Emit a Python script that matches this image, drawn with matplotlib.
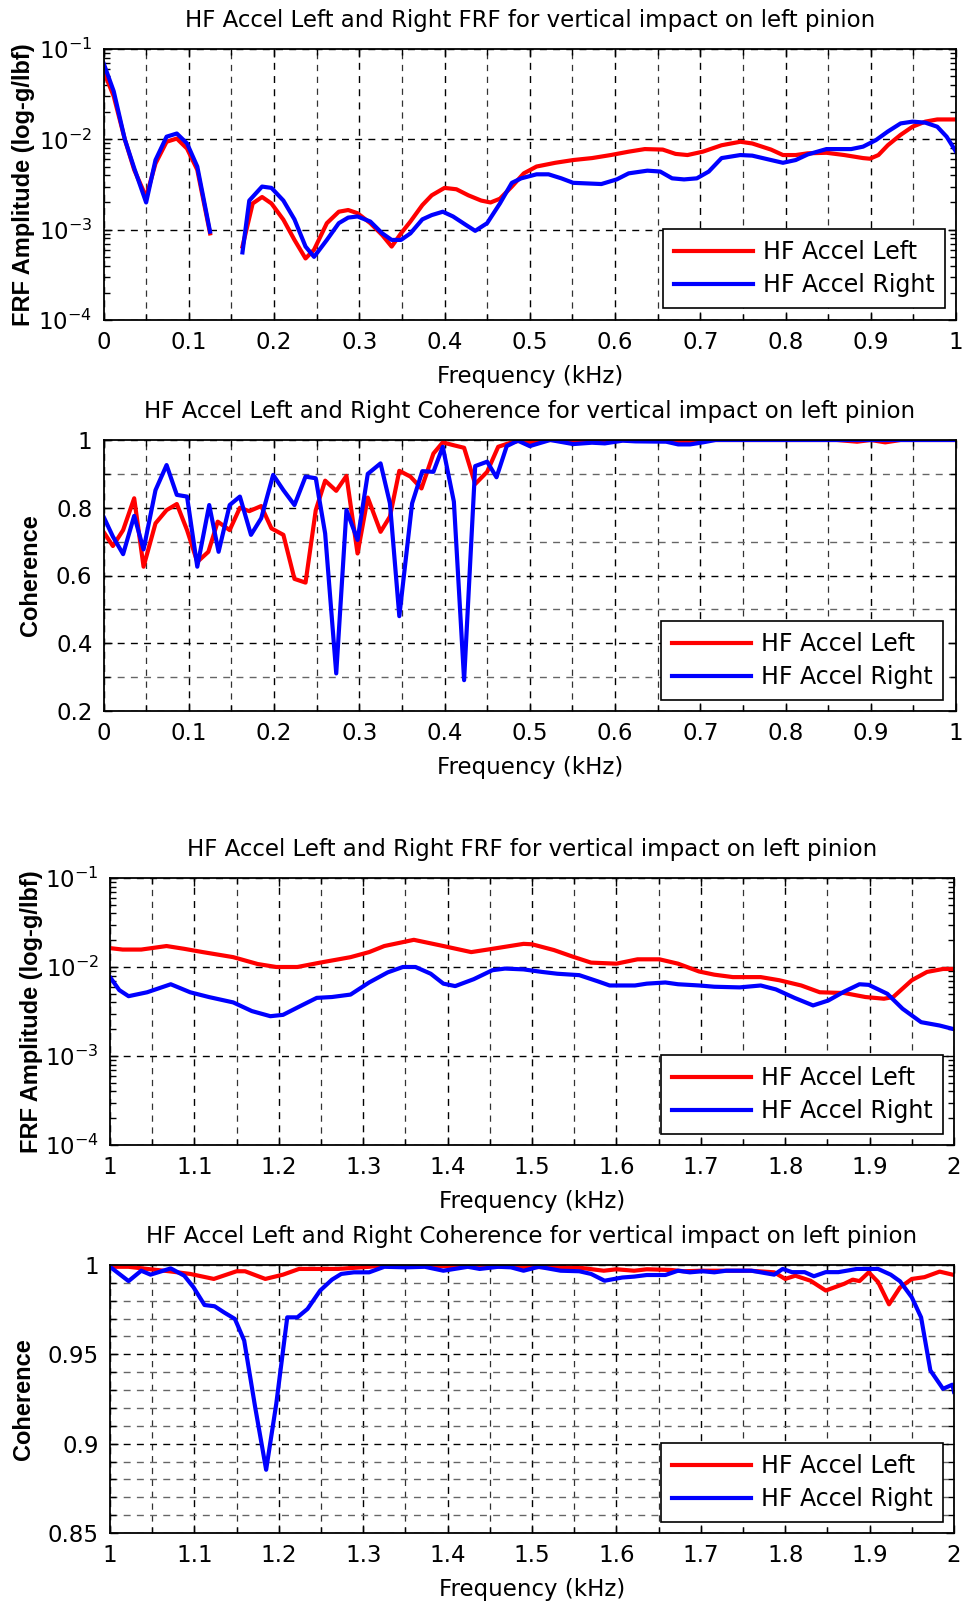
import numpy as np
import matplotlib
matplotlib.use("Agg")
import matplotlib.pyplot as plt
from matplotlib.ticker import MultipleLocator, FormatStrFormatter, LogLocator, NullFormatter

plt.rcParams['font.family'] = ['DejaVu Sans']
plt.rcParams['mathtext.default'] = 'regular'

# ---------------- data ----------------
title_frf = "HF Accel Left and Right FRF for vertical impact on left pinion"
title_coh = "HF Accel Left and Right Coherence for vertical impact on left pinion"
xlabel = "Frequency (kHz)"
ylabel_frf = "FRF Amplitude (log-g/lbf)"
ylabel_coh = "Coherence"
labels = ["HF Accel Left", "HF Accel Right"]

# Panel 1: FRF 0-1 kHz (NaN = gap)
f1_left_x = [0, 0.012, 0.025, 0.036, 0.05, 0.061, 0.074, 0.086, 0.098, 0.11, 0.125, 0.14,
             0.163, 0.175, 0.186, 0.197, 0.211, 0.224, 0.237, 0.247, 0.262, 0.276, 0.287, 0.298,
             0.313, 0.327, 0.338, 0.349, 0.36, 0.374, 0.385, 0.4, 0.414, 0.428, 0.443, 0.454,
             0.465, 0.479, 0.493, 0.508, 0.53, 0.551, 0.573, 0.595, 0.616, 0.635, 0.656, 0.671,
             0.685, 0.703, 0.725, 0.747, 0.761, 0.783, 0.797, 0.812, 0.826, 0.848, 0.869, 0.891,
             0.899, 0.909, 0.92, 0.935, 0.949, 0.964, 0.978, 1.0]
f1_left_y = [0.057, 0.030, 0.010, 0.0046, 0.0023, 0.0054, 0.0094, 0.0102, 0.0079, 0.0046, 0.00091, np.nan,
             0.00065, 0.00195, 0.0023, 0.00195, 0.00129, 0.00077, 0.00048, 0.0006, 0.00118, 0.00158, 0.00165, 0.00152,
             0.00118, 0.00087, 0.00065, 0.00091, 0.00123, 0.00187, 0.0024, 0.0029, 0.0028, 0.0024, 0.0021, 0.0020,
             0.0022, 0.0030, 0.0042, 0.0050, 0.0055, 0.0059, 0.0062, 0.0067, 0.0073, 0.0078, 0.0077, 0.0069,
             0.0067, 0.0073, 0.0086, 0.0094, 0.0090, 0.0077, 0.0067, 0.0067, 0.0070, 0.0071, 0.0067, 0.0062,
             0.0061, 0.0067, 0.0086, 0.0112, 0.0138, 0.0157, 0.0166, 0.0166]
f1_right_x = [0, 0.012, 0.025, 0.036, 0.05, 0.061, 0.074, 0.086, 0.098, 0.11, 0.125, 0.14,
              0.163, 0.171, 0.186, 0.197, 0.211, 0.224, 0.237, 0.247, 0.262, 0.276, 0.287, 0.298,
              0.313, 0.327, 0.338, 0.349, 0.36, 0.374, 0.385, 0.398, 0.41, 0.425, 0.436, 0.45,
              0.465, 0.479, 0.49, 0.508, 0.522, 0.537, 0.551, 0.584, 0.602, 0.616, 0.638, 0.653,
              0.667, 0.681, 0.696, 0.71, 0.725, 0.747, 0.761, 0.783, 0.797, 0.812, 0.826, 0.848,
              0.877, 0.891, 0.906, 0.92, 0.935, 0.949, 0.964, 0.978, 0.989, 1.0]
f1_right_y = [0.070, 0.034, 0.010, 0.0048, 0.0020, 0.0059, 0.0107, 0.0116, 0.0090, 0.0050, 0.00095, np.nan,
              0.00056, 0.0021, 0.0030, 0.0029, 0.0021, 0.0013, 0.00065, 0.0005, 0.00077, 0.00118, 0.00136, 0.0014,
              0.00123, 0.00091, 0.00077, 0.00077, 0.00091, 0.0013, 0.00145, 0.00158, 0.0014, 0.00113, 0.00097, 0.00118,
              0.00195, 0.0033, 0.0037, 0.0041, 0.0041, 0.0037, 0.0033, 0.0032, 0.0036, 0.0042, 0.0045, 0.0044,
              0.0037, 0.0036, 0.0037, 0.0044, 0.0062, 0.0067, 0.0066, 0.0059, 0.0055, 0.0059, 0.0068, 0.0078,
              0.0078, 0.0083, 0.0098, 0.0122, 0.0150, 0.0157, 0.0153, 0.0138, 0.0107, 0.0073]

# Panel 2: coherence 0-1 kHz
c1_left_x = [0, 0.011, 0.023, 0.036, 0.047, 0.061, 0.074, 0.086, 0.098, 0.11, 0.123, 0.134,
             0.148, 0.16, 0.171, 0.185, 0.197, 0.211, 0.224, 0.237, 0.249, 0.26, 0.273, 0.285,
             0.298, 0.31, 0.325, 0.336, 0.347, 0.36, 0.373, 0.387, 0.398, 0.41, 0.423, 0.436,
             0.45, 0.463, 0.475, 0.488, 0.5, 0.515, 0.6, 0.66, 0.68, 0.7, 0.86, 0.884, 0.9,
             0.917, 0.935, 1.0]
c1_left_y = [0.729, 0.687, 0.734, 0.828, 0.626, 0.754, 0.793, 0.811, 0.734, 0.64, 0.67, 0.759,
             0.734, 0.80, 0.79, 0.805, 0.739, 0.72, 0.59, 0.579, 0.793, 0.88, 0.85, 0.894,
             0.665, 0.83, 0.729, 0.774, 0.909, 0.892, 0.857, 0.96, 0.993, 0.985, 0.977, 0.87,
             0.906, 0.98, 0.99, 0.998, 0.992, 1.0, 1.0, 0.998, 0.996, 1.0, 1.0, 0.995, 1.0,
             0.993, 1.0, 1.0]
c1_right_x = [0, 0.011, 0.023, 0.036, 0.047, 0.061, 0.074, 0.086, 0.098, 0.11, 0.124, 0.135,
              0.148, 0.16, 0.173, 0.185, 0.199, 0.211, 0.224, 0.237, 0.249, 0.26, 0.273, 0.285,
              0.298, 0.31, 0.325, 0.336, 0.347, 0.362, 0.374, 0.387, 0.398, 0.411, 0.423, 0.436,
              0.45, 0.461, 0.473, 0.486, 0.5, 0.524, 0.551, 0.573, 0.588, 0.609, 0.624, 0.66,
              0.674, 0.688, 0.703, 0.718, 1.0]
c1_right_y = [0.774, 0.715, 0.663, 0.776, 0.677, 0.852, 0.926, 0.838, 0.833, 0.626, 0.808, 0.67,
              0.808, 0.833, 0.72, 0.769, 0.897, 0.852, 0.808, 0.892, 0.887, 0.724, 0.311, 0.793,
              0.705, 0.90, 0.931, 0.813, 0.48, 0.813, 0.908, 0.906, 0.98, 0.818, 0.291, 0.923,
              0.936, 0.89, 0.982, 0.998, 0.982, 1.0, 0.988, 0.992, 0.99, 0.998, 0.996, 0.995,
              0.987, 0.987, 0.993, 1.0, 1.0]

# Panel 3: FRF 1-2 kHz
f2_left_x = [1.0, 1.015, 1.037, 1.067, 1.088, 1.11, 1.146, 1.175, 1.197, 1.222, 1.249, 1.285,
             1.307, 1.325, 1.36, 1.395, 1.428, 1.453, 1.49, 1.5, 1.526, 1.548, 1.57, 1.6,
             1.625, 1.651, 1.673, 1.698, 1.716, 1.738, 1.771, 1.793, 1.819, 1.841, 1.87, 1.895,
             1.917, 1.928, 1.95, 1.968, 1.987, 2.0]
f2_left_y = [0.0163, 0.0157, 0.0157, 0.0172, 0.0160, 0.0147, 0.0129, 0.0108, 0.0100, 0.0100, 0.0112, 0.0129,
             0.0147, 0.0172, 0.0202, 0.0172, 0.0147, 0.0160, 0.0182, 0.0180, 0.0155, 0.0131, 0.0112, 0.0109,
             0.0122, 0.0122, 0.0109, 0.0089, 0.0082, 0.0077, 0.0077, 0.0071, 0.0062, 0.0052, 0.0051, 0.0046,
             0.0044, 0.0046, 0.0071, 0.0088, 0.0095, 0.0095]
f2_right_x = [1.0, 1.011, 1.022, 1.044, 1.072, 1.095, 1.117, 1.146, 1.168, 1.19, 1.205, 1.227,
              1.245, 1.263, 1.285, 1.307, 1.329, 1.347, 1.362, 1.38, 1.395, 1.409, 1.431, 1.453,
              1.468, 1.49, 1.512, 1.53, 1.556, 1.578, 1.592, 1.622, 1.636, 1.658, 1.673, 1.698,
              1.716, 1.746, 1.771, 1.789, 1.811, 1.833, 1.851, 1.87, 1.888, 1.899, 1.921, 1.939,
              1.961, 1.983, 2.0]
f2_right_y = [0.0077, 0.0055, 0.0047, 0.0052, 0.0064, 0.0052, 0.0046, 0.0040, 0.0032, 0.0028, 0.0029, 0.0037,
              0.0045, 0.0046, 0.0049, 0.0067, 0.0087, 0.0100, 0.0100, 0.0084, 0.0065, 0.0061, 0.0073, 0.0092,
              0.0096, 0.0094, 0.0088, 0.0084, 0.0081, 0.0069, 0.0062, 0.0062, 0.0065, 0.0067, 0.0064, 0.0062,
              0.0060, 0.0059, 0.0062, 0.0056, 0.0045, 0.0037, 0.0042, 0.0053, 0.0064, 0.0063, 0.0050, 0.0034,
              0.0024, 0.0022, 0.0020]

# Panel 4: coherence 1-2 kHz
c2_left_x = [1.0, 1.022, 1.044, 1.07, 1.095, 1.123, 1.15, 1.16, 1.184, 1.205, 1.224, 1.27,
             1.307, 1.32, 1.486, 1.556, 1.585, 1.6, 1.621, 1.636, 1.665, 1.68, 1.7, 1.758,
             1.787, 1.80, 1.812, 1.83, 1.848, 1.87, 1.88, 1.888, 1.899, 1.91, 1.923, 1.936,
             1.95, 1.965, 1.983, 2.0]
c2_left_y = [0.999, 0.999, 0.9978, 0.9965, 0.995, 0.9922, 0.9965, 0.9965, 0.9922, 0.9946, 0.9978, 0.9978,
             0.999, 0.9996, 0.999, 0.9985, 0.9968, 0.9976, 0.9968, 0.9976, 0.9972, 0.9965, 0.9968, 0.9968,
             0.9959, 0.9922, 0.994, 0.9912, 0.9857, 0.9895, 0.9918, 0.9910, 0.9959, 0.9905, 0.978, 0.9874,
             0.9922, 0.9932, 0.9963, 0.9944]
c2_right_x = [1.0, 1.022, 1.037, 1.048, 1.072, 1.088, 1.099, 1.112, 1.124, 1.135, 1.148, 1.159,
              1.172, 1.185, 1.197, 1.21, 1.222, 1.234, 1.249, 1.263, 1.274, 1.289, 1.307, 1.325,
              1.351, 1.373, 1.395, 1.424, 1.438, 1.46, 1.475, 1.49, 1.508, 1.534, 1.556, 1.57,
              1.586, 1.607, 1.621, 1.636, 1.658, 1.673, 1.687, 1.702, 1.716, 1.73, 1.745, 1.76,
              1.787, 1.797, 1.808, 1.823, 1.834, 1.848, 1.863, 1.885, 1.9, 1.91, 1.925, 1.936,
              1.95, 1.961, 1.972, 1.987, 1.998, 2.0]
c2_right_y = [0.999, 0.991, 0.9968, 0.9946, 0.9981, 0.994, 0.9875, 0.9776, 0.9769, 0.9735, 0.9698, 0.9577,
              0.9204, 0.8854, 0.9223, 0.9707, 0.9707, 0.9754, 0.9857, 0.9918, 0.995, 0.9959, 0.9959, 0.999,
              0.9987, 0.999, 0.9968, 0.999, 0.9978, 0.999, 0.9987, 0.9968, 0.999, 0.9968, 0.9965, 0.995,
              0.9912, 0.993, 0.9935, 0.9944, 0.9944, 0.9968, 0.9959, 0.9965, 0.9959, 0.9968, 0.9968, 0.9968,
              0.9946, 0.9978, 0.996, 0.996, 0.9937, 0.996, 0.996, 0.9978, 0.9978, 0.9978, 0.9946, 0.9909,
              0.9819, 0.9707, 0.941, 0.9307, 0.9330, 0.929]

# ---------------- layout ----------------
W, H = 967, 1604
fig = plt.figure(figsize=(W / 100, H / 100), dpi=100)

def rect(l, r, t, b):
    return [l / W, 1 - b / H, (r - l) / W, (b - t) / H]

FS_TITLE = 16.5
FS_TICK = 16.5
FS_LAB = 16.5
FS_LEG = 17
RED = (1, 0, 0)
BLUE = (0, 0, 1)
DASH = (0, (5, 4.5))
LW = 3.0

def style(ax, xlim, xmajor, logy, ylim, ymajor=None, yminor=None):
    ax.set_xlim(*xlim)
    ax.xaxis.set_major_locator(MultipleLocator(xmajor))
    ax.xaxis.set_minor_locator(MultipleLocator(xmajor / 2))
    ax.xaxis.set_major_formatter(FormatStrFormatter('%g'))
    if logy:
        ax.set_yscale('log')
        ax.yaxis.set_major_locator(LogLocator(base=10, numticks=10))
        ax.yaxis.set_minor_locator(LogLocator(base=10, subs=np.arange(2, 10), numticks=20))
        ax.yaxis.set_minor_formatter(NullFormatter())
    else:
        ax.yaxis.set_major_locator(MultipleLocator(ymajor))
        ax.yaxis.set_minor_locator(MultipleLocator(yminor))
        ax.yaxis.set_major_formatter(FormatStrFormatter('%g'))
        ax.grid(True, which='minor', axis='y', color='#666666', linestyle=DASH, linewidth=1.0)
    ax.set_ylim(*ylim)
    ax.grid(True, which='major', axis='both', color='black', linestyle=DASH, linewidth=1.0)
    ax.grid(True, which='minor', axis='x', color='#333333', linestyle=DASH, linewidth=0.9)
    ax.set_axisbelow(True)
    ax.tick_params(which='both', direction='in', top=True, right=True, labelsize=FS_TICK, width=1.0)
    ax.tick_params(which='major', length=6, pad=8)
    ax.tick_params(which='minor', length=4)
    for s in ax.spines.values():
        s.set_linewidth(1.3)
        s.set_color('black')
    ax.set_xlabel(xlabel, fontsize=FS_LAB, labelpad=7.8)

def legend(ax, right, bottom):
    leg = ax.legend(loc='lower right', bbox_to_anchor=(right / W, 1 - bottom / H),
                    bbox_transform=fig.transFigure, fontsize=FS_LEG, frameon=True, fancybox=False,
                    edgecolor='black', framealpha=1, handlelength=3.35, handletextpad=0.4,
                    labelspacing=0.4, borderpad=0.45, borderaxespad=0)
    leg.get_frame().set_linewidth(1.2)

def ylab(ax, text, xpix):
    lab = ax.set_ylabel(text, fontsize=17, family=['Liberation Sans', 'DejaVu Sans'],
                        fontweight='bold')
    lab.set_verticalalignment('center')
    pos = ax.get_position()
    ax.yaxis.set_label_coords((xpix / W - pos.x0) / pos.width, 0.5)

# Panel 1
ax1 = fig.add_axes(rect(103.5, 956, 49, 320))
ax1.plot(f1_left_x, f1_left_y, color=RED, lw=LW, label=labels[0])
ax1.plot(f1_right_x, f1_right_y, color=BLUE, lw=LW, label=labels[1])
style(ax1, (0, 1), 0.1, True, (1e-4, 1e-1))
ax1.set_title(title_frf, fontsize=FS_TITLE, pad=16)
ylab(ax1, ylabel_frf, 24)
legend(ax1, 945, 308)

# Panel 2
ax2 = fig.add_axes(rect(103.5, 956, 440, 711))
ax2.plot(c1_left_x, c1_left_y, color=RED, lw=LW, label=labels[0])
ax2.plot(c1_right_x, c1_right_y, color=BLUE, lw=LW, label=labels[1])
style(ax2, (0, 1), 0.1, False, (0.2, 1.0), 0.2, 0.1)
ax2.set_title(title_coh, fontsize=FS_TITLE, pad=16)
ylab(ax2, ylabel_coh, 31)
legend(ax2, 943, 700)

# Panel 3
ax3 = fig.add_axes(rect(110, 954, 878, 1145))
ax3.plot(f2_left_x, f2_left_y, color=RED, lw=LW, label=labels[0])
ax3.plot(f2_right_x, f2_right_y, color=BLUE, lw=LW, label=labels[1])
style(ax3, (1, 2), 0.1, True, (1e-4, 1e-1))
ax3.set_title(title_frf, fontsize=FS_TITLE, pad=16)
ylab(ax3, ylabel_frf, 31.5)
legend(ax3, 943, 1134)

# Panel 4
ax4 = fig.add_axes(rect(110, 954, 1265, 1533))
ax4.plot(c2_left_x, c2_left_y, color=RED, lw=LW, label=labels[0])
ax4.plot(c2_right_x, c2_right_y, color=BLUE, lw=LW, label=labels[1])
style(ax4, (1, 2), 0.1, False, (0.85, 1.0), 0.05, 0.01)
ax4.set_title(title_coh, fontsize=FS_TITLE, pad=16)
ylab(ax4, ylabel_coh, 24)
legend(ax4, 943, 1522)

fig.savefig("out.png", dpi=100)
